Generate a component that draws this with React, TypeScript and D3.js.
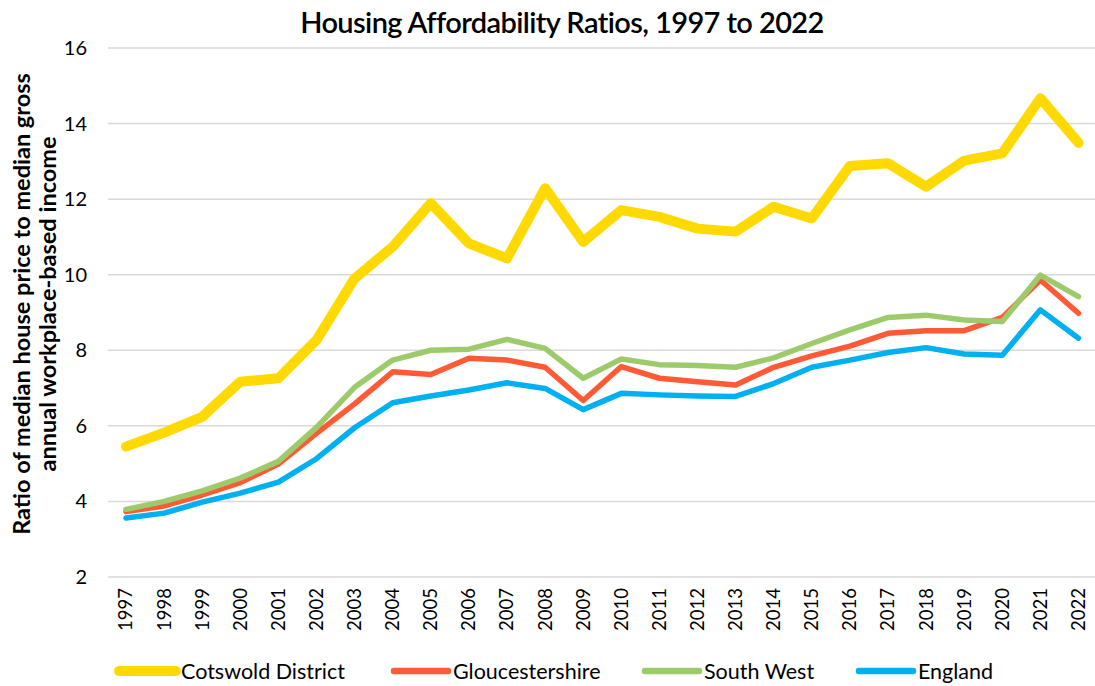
import React from 'react'
import * as d3 from 'd3'

const years = d3.range(1997, 2023)
const cotswold = [5.45, 5.82, 6.24, 7.17, 7.26, 8.27, 9.9, 10.74, 11.89, 10.83, 10.43, 12.29, 10.87,
  11.71, 11.53, 11.22, 11.14, 11.8, 11.49, 12.88, 12.95, 12.33, 13.02, 13.21, 14.67, 13.49]
const gloucestershire = [3.73, 3.88, 4.17, 4.5, 4.99, 5.8, 6.58, 7.43, 7.36, 7.79, 7.74, 7.55, 6.67,
  7.57, 7.26, 7.17, 7.08, 7.55, 7.85, 8.11, 8.45, 8.52, 8.52, 8.87, 9.86, 8.98]
const southWest = [3.79, 4.0, 4.28, 4.62, 5.06, 5.96, 7.02, 7.74, 8.0, 8.03, 8.29, 8.05, 7.26,
  7.77, 7.62, 7.6, 7.55, 7.8, 8.18, 8.54, 8.87, 8.93, 8.8, 8.76, 9.99, 9.42]
const england = [3.56, 3.69, 3.98, 4.22, 4.51, 5.13, 5.95, 6.61, 6.79, 6.95, 7.14, 6.99, 6.43,
  6.86, 6.82, 6.79, 6.78, 7.12, 7.55, 7.74, 7.94, 8.07, 7.9, 7.87, 9.07, 8.32]
const yTicks = [2, 4, 6, 8, 10, 12, 14, 16]

const series = [
  { name: 'Cotswold District', values: cotswold, color: '#FFD900', width: 10 },
  { name: 'Gloucestershire', values: gloucestershire, color: '#FF5A36', width: 5.5 },
  { name: 'South West', values: southWest, color: '#9DCB6B', width: 5.5 },
  { name: 'England', values: england, color: '#00B0F0', width: 5.5 },
]
const legendX = [119, 394, 645, 859]

const font = 'Lato, "Open Sans", sans-serif'

export default function App() {
  const x = d3.scaleLinear().domain([1997, 2022]).range([126, 1078.5])
  const y = d3.scaleLinear().domain([2, 16]).range([577, 48])

  const line = d3.line<number>()
    .x((d, i) => x(years[i]))
    .y(d => y(d))

  return (
    <svg width={1095} height={686} style={{ position: 'absolute', left: 0, top: 0, background: '#fff' }}
      fontFamily={font}>
      <text x={562} y={33} textAnchor="middle" fontSize={29} fontWeight={600} fill="#000"
        letterSpacing={-0.6}>Housing Affordability Ratios, 1997 to 2022</text>

      {yTicks.map(t => (
        <g key={t}>
          <line x1={108} x2={1095} y1={y(t)} y2={y(t)} stroke="#D9D9D9" strokeWidth={1.5} />
          <text x={87} y={y(t)} dy="0.35em" textAnchor="end" fontSize={20} fill="#000">{t}</text>
        </g>
      ))}

      <g transform="translate(35,304) rotate(-90)">
        <text x={0} y={-5} textAnchor="middle" fontSize={23.5} fontWeight={700} fill="#000">
          Ratio of median house price to median gross
        </text>
        <text x={0} y={21} textAnchor="middle" fontSize={23.5} fontWeight={700} fill="#000">
          annual workplace-based income
        </text>
      </g>

      {years.map(yr => (
        <text key={yr} transform={`translate(${x(yr)},588) rotate(-90)`} dy="0.35em" textAnchor="end"
          fontSize={18.5} fill="#000">{yr}</text>
      ))}

      {series.map(s => (
        <path key={s.name} d={line(s.values) || ''} fill="none" stroke={s.color} strokeWidth={s.width}
          strokeLinejoin="round" strokeLinecap="round" />
      ))}

      {series.map((s, i) => (
        <g key={s.name} transform={`translate(${legendX[i]},671)`}>
          <line x1={0} x2={i === 0 ? 57 : 54} y1={0} y2={0} stroke={s.color}
            strokeWidth={i === 0 ? 10 : 6.5} strokeLinecap="round" />
          <text x={i === 0 ? 62 : 59} y={0} dy="0.35em" fontSize={21.5} fill="#000">{s.name}</text>
        </g>
      ))}
    </svg>
  )
}
